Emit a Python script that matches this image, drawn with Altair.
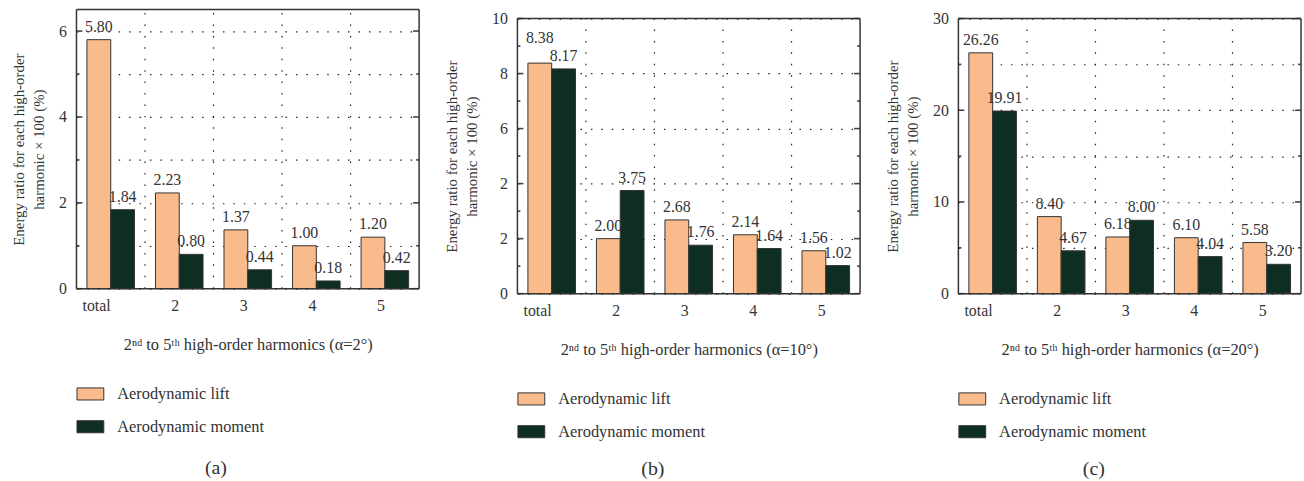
import altair as alt
import pandas as pd

# Harmonic groups on the x axis and the two force series
harmonics = ["total", "2", "3", "4", "5"]
series_names = ["Aerodynamic lift", "Aerodynamic moment"]
series_colors = ["#F9BB8B", "#0F2E22"]

# Energy ratio x 100 (%) for each panel
lift_a = [5.80, 2.23, 1.37, 1.00, 1.20]
moment_a = [1.84, 0.80, 0.44, 0.18, 0.42]
lift_b = [8.38, 2.00, 2.68, 2.14, 1.56]
moment_b = [8.17, 3.75, 1.76, 1.64, 1.02]
lift_c = [26.26, 8.40, 6.18, 6.10, 5.58]
moment_c = [19.91, 4.67, 8.00, 4.04, 3.20]

# Angle of attack for each panel and its caption
alphas = ["2", "10", "20"]
captions = ["(a)", "(b)", "(c)"]

# y axis: upper limit, labelled ticks, minor ticks, dotted grid values
y_top = [6.5, 10, 30]
y_major = [[0, 2, 4, 6], [0, 2, 4, 6, 8, 10], [0, 10, 20, 30]]
y_minor = [[1, 3, 5], [1, 3, 5, 7, 9], [5, 15, 25]]
y_grid = [[0, 1, 2, 3, 4, 5, 6], [0, 1, 2, 3, 4, 5, 6, 7, 8, 9, 10], [0, 5, 10, 15, 20, 25, 30]]

FONT = "Liberation Serif"
INK = "#333333"
DOT = "#222222"
W = 345


def panel(i, lift, moment, frame_h, drop, label_expr, caption_offset, raise_total_lift=False):
    """One bar panel; `drop` pixels of blank space sit above its frame."""
    top = y_top[i]
    view_h = frame_h + drop
    dom_top = top * view_h / frame_h

    df = pd.DataFrame({
        "harmonic": harmonics * 2,
        "series": [s for s in series_names for _ in harmonics],
        "value": lift + moment,
    })
    df["lift_total"] = (df["series"] == series_names[0]) & (df["harmonic"] == "total")

    x_enc = alt.X(
        "harmonic:N", sort=harmonics,
        scale=alt.Scale(paddingInner=0, paddingOuter=0),
        axis=alt.Axis(
            title=f"2ⁿᵈ to 5ᵗʰ high-order harmonics (α={alphas[i]}°)",
            labelAngle=0, ticks=False, domain=False, grid=False,
            labelPadding=17, titlePadding=23,
        ),
    )
    y_enc = alt.Y(
        "value:Q", scale=alt.Scale(domain=[0, dom_top], nice=False, zero=True),
        axis=alt.Axis(
            values=y_grid[i], labelExpr=label_expr, grid=True,
            gridDash=[1.5, 9], gridColor=DOT, gridWidth=1.2,
            ticks=False, domain=False, labelPadding=10,
            title=["Energy ratio for each high-order", "harmonic × 100 (%)"],
            titlePadding=12, titleY=drop + frame_h / 2,
        ),
    )
    x_off = alt.XOffset("series:N", sort=series_names,
                        scale=alt.Scale(paddingInner=0, paddingOuter=0.44))

    bars = alt.Chart(df).mark_bar(stroke=INK, strokeWidth=1).encode(
        x=x_enc, y=y_enc, xOffset=x_off,
        color=alt.Color(
            "series:N", sort=series_names,
            scale=alt.Scale(domain=series_names, range=series_colors),
            legend=alt.Legend(
                title=None, orient="bottom", direction="vertical",
                symbolType="M-1,-0.45H1V0.45H-1Z", symbolSize=729,
                symbolStrokeColor=INK, symbolStrokeWidth=1,
                labelFont=FONT, labelFontSize=16.5, labelColor=INK,
                labelOffset=13, rowPadding=10, offset=27,
            ),
        ),
    )

    text_enc = dict(
        x=alt.X("harmonic:N", sort=harmonics),
        xOffset=alt.XOffset("series:N", sort=series_names),
        y=alt.Y("value:Q"),
        text=alt.Text("value:Q", format=".2f"),
    )
    text_style = dict(baseline="alphabetic", fontSize=16, font=FONT, color=INK)
    if raise_total_lift:
        labels = alt.layer(
            alt.Chart(df).transform_filter("!datum.lift_total")
            .mark_text(dy=-8, **text_style).encode(**text_enc),
            alt.Chart(df).transform_filter("datum.lift_total")
            .mark_text(dy=-20, **text_style).encode(**text_enc),
        )
    else:
        labels = alt.Chart(df).mark_text(dy=-8, **text_style).encode(**text_enc)

    # dotted separators between harmonic groups
    vgrid = alt.Chart(pd.DataFrame({"harmonic": harmonics[1:]})).mark_rule(
        strokeDash=[1.5, 10], color=DOT, strokeWidth=1.2
    ).encode(
        x=alt.X("harmonic:N", sort=harmonics, bandPosition=0),
        y=alt.datum(0), y2=alt.datum(top),
    )

    # inward ticks on left and right frame edges
    maj = pd.DataFrame({"v": y_major[i]})
    mnr = pd.DataFrame({"v": y_minor[i]})
    tick_style = dict(color="#444444", strokeWidth=1.6)
    yv = alt.Y("v:Q")
    ticks = [
        alt.Chart(maj).mark_rule(**tick_style).encode(y=yv, x=alt.value(0), x2=alt.value(6)),
        alt.Chart(maj).mark_rule(**tick_style).encode(y=yv, x=alt.value(W), x2=alt.value(W - 6)),
        alt.Chart(mnr).mark_rule(**tick_style).encode(y=yv, x=alt.value(0), x2=alt.value(3)),
        alt.Chart(mnr).mark_rule(**tick_style).encode(y=yv, x=alt.value(W), x2=alt.value(W - 3)),
    ]

    # plot frame
    one = pd.DataFrame({"k": [0]})
    frame_style = dict(color=INK, strokeWidth=1.5)
    frame = [
        alt.Chart(one).mark_rule(**frame_style).encode(y=alt.datum(0), x=alt.value(0), x2=alt.value(W)),
        alt.Chart(one).mark_rule(**frame_style).encode(y=alt.datum(top), x=alt.value(0), x2=alt.value(W)),
        alt.Chart(one).mark_rule(**frame_style).encode(x=alt.value(0), y=alt.datum(0), y2=alt.datum(top)),
        alt.Chart(one).mark_rule(**frame_style).encode(x=alt.value(W), y=alt.datum(0), y2=alt.datum(top)),
    ]

    return alt.layer(vgrid, bars, labels, *ticks, *frame).properties(
        width=W, height=view_h,
        title=alt.TitleParams(captions[i], orient="bottom", anchor="middle",
                              frame="bounds", fontSize=20, font=FONT,
                              fontWeight="normal", color=INK, offset=caption_offset),
    )


even_expr = "datum.value % 2 == 0 ? datum.label : ''"
b_expr = "datum.value % 2 == 0 ? (datum.value == 4 ? '2' : datum.label) : ''"
c_expr = "datum.value % 10 == 0 ? datum.label : ''"

chart = alt.hconcat(
    panel(0, lift_a, moment_a, 281, 0, even_expr, 23),
    panel(1, lift_b, moment_b, 277, 9, b_expr, 19, raise_total_lift=True),
    panel(2, lift_c, moment_c, 277, 9, c_expr, 19),
    spacing=25,
).resolve_scale(color="independent", y="independent", x="independent").resolve_legend(
    color="independent"
).configure(font=FONT, padding={"left": 12, "top": 7, "right": 2, "bottom": 5}).configure_view(
    strokeOpacity=0
).configure_axis(
    labelFont=FONT, labelFontSize=16, labelColor=INK,
    titleFont=FONT, titleFontSize=15, titleFontWeight="normal", titleColor=INK,
    titleLineHeight=20,
).configure_axisX(titleFontSize=16.5)

chart.save("out.html", embed_options={"renderer": "svg", "actions": False})
